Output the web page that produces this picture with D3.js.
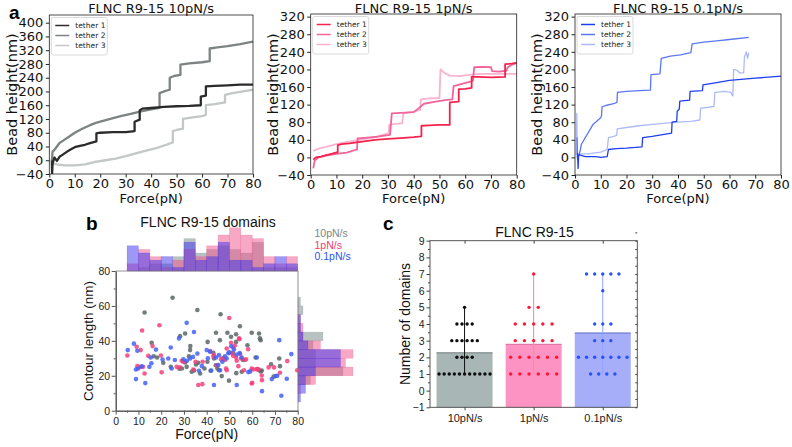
<!DOCTYPE html>
<html>
<head>
<meta charset="utf-8">
<script src="https://cdn.jsdelivr.net/npm/d3@7"></script>
<style>
body { margin: 0; background: #fff; }
svg { display: block; }
</style>
</head>
<body>
<svg id="fig" width="792" height="447"></svg>
<script>
// ---- panel a: bead height traces, [force pN, height nm]
var r10Tether1 = [[1,0],[1.1,-38],[1.3,-10],[2,8],[3,-2],[4,10],[5,15],[6,20],[7,25],[8,30],[10,38],[12,42],[14,45],[16,50],[18.5,55],[18.5,78],[20,80],[25,82],[30,82],[33.5,85],[33.5,112],[35.5,118],[35.5,145],[36.5,150],[40,152],[45,155],[50,157],[55,158],[59.5,160],[59.5,185],[61.5,188],[61.5,215],[65,216],[70,218],[75,220],[80,220]];
var r10Tether2 = [[1,0],[1.3,25],[2,30],[3,40],[4,50],[5,55],[6,60],[8,70],[10,80],[12,88],[14,95],[16,102],[18,108],[20,112],[24,120],[28,128],[32,135],[36,142],[40,148],[43.3,152],[43.3,195],[45,200],[47.3,205],[47.3,240],[49,245],[51.5,248],[51.5,278],[55,282],[60,285],[63,288],[63,325],[66,328],[70,332],[75,338],[80,345]];
var r10Tether3 = [[1,-5],[1.5,-10],[3,-12],[6,-15],[10,-15],[14,-12],[18,-5],[22,0],[26,5],[30,12],[34,20],[38,28],[42,35],[46,45],[48.5,52],[48.5,85],[50,88],[52.5,92],[52.5,120],[55,123],[60,128],[61.5,132],[61.5,160],[65,163],[69,168],[69,190],[72,195],[76,200],[80,205]];

var r1Tether1 = [[1,-5],[2,0],[4,2],[6,5],[8,8],[10.5,12],[10.5,28],[12,30],[15,32],[20,36],[25,40],[30,42],[35,44],[40,46],[43,48],[43,72],[46,73],[50,74],[54,74],[54,125],[57.5,127],[57.5,155],[60,156],[62.5,158],[62.5,183],[65,183],[70,182],[75.5,183],[75.5,212],[78,213],[80,215]];
var r1Tether2 = [[1,-25],[1.5,-8],[3,0],[6,4],[10,8],[14,11],[18,18],[18.2,43],[22,45],[26,47],[30.8,51],[31.5,100],[35,101],[40,103],[42,112],[44,122],[48,126],[52,130],[55,132],[55.5,162],[58,166],[62,172],[63,174],[63.5,205],[67,206],[70,205],[70.5,196],[73,195],[76,197],[76.5,205],[78,210],[80,215]];
var r1Tether3 = [[1,15],[3,20],[6,24],[11,32],[19,40],[25,46],[30.3,55],[30.5,74],[33,76],[35.5,78],[36,100],[40,104],[42.5,108],[42.8,132],[46,134],[50,135],[50.4,200],[52,192],[54,186],[58,185],[62,188],[66,190],[70,190],[75,190],[80,190]];

var r01Tether1 = [[1,10],[1.2,-25],[1.4,5],[2,5],[4,2],[8,2],[10,0],[12.5,2],[13,18],[16,20],[20,21],[26,24],[26.3,45],[30,48],[34,52],[37.5,55],[37.7,80],[39.5,82],[39.7,105],[40.5,110],[40.7,128],[44.5,130],[44.7,150],[49.5,152],[49.7,165],[55,170],[60,175],[70,180],[80,185]];
var r01Tether2 = [[0.8,45],[1,-5],[1.5,5],[2,15],[2.5,30],[3,35],[4,45],[5,55],[6,65],[7,75],[8,80],[9,85],[10,90],[10.3,95],[10.5,115],[12,118],[15,122],[16.3,125],[16.5,148],[20,150],[25,152],[29.3,153],[29.5,188],[33,190],[33.5,225],[37,230],[41,233],[45,238],[45.5,258],[50,262],[55,265],[60,268],[67.5,273]];
var r01Tether3 = [[0.5,5],[0.7,100],[0.9,0],[2,8],[5,8],[10,12],[12.5,18],[13,45],[15,48],[16.2,50],[16.4,65],[20,68],[25,72],[30,75],[35,78],[40,80],[45,82],[48.5,85],[48.8,112],[52,114],[54,116],[54.3,148],[58,150],[60.5,148],[61,142],[61.3,140],[61.6,200],[63,198],[64,192],[65.5,192],[65.8,228],[66.5,240],[67,225],[67.5,238]];

var tetherNames = ['tether 1', 'tether 2', 'tether 3'];
var rateLabels = ['10pN/s', '1pN/s', '0.1pN/s'];

// ---- panel b: unfolding events, [force pN, contour length nm]
var events10 = [[25,64.7],[12.7,56.2],[35.9,57.7],[46.1,55.2],[54.6,48.4],[28.3,42.7],[30.5,44.2],[44.1,44.6],[49.1,44.6],[50.7,42.3],[45.8,40.4],[52.9,43.8],[52.9,39.4],[59.8,44.6],[63,44.2],[63.4,41.4],[63.7,40.4],[40.4,39.4],[57.9,37.5],[15.8,38.9],[18.2,30.5],[20.9,27.4],[24.2,25.1],[29.1,24.2],[31.2,25.1],[30.5,27.6],[32.7,34.7],[32.8,37],[32.2,31.2],[33.4,22.3],[35.3,26.5],[36.3,27.5],[37.1,21.3],[39,24.2],[40.3,28],[41.7,22.9],[42.9,33.2],[43.2,29.9],[44.7,24.2],[45.4,23.2],[46.6,19.8],[47,29.9],[49.8,17.2],[51.5,33],[55.4,22.3],[56,29],[61.5,30.5],[63,23.2],[64.2,23],[63.8,22.5],[68.3,26.5],[71.9,29.9],[72.2,25.5],[16.7,31.2],[34.5,23],[28,24],[44,26],[53,21.5],[69.4,19.5]];
var events1 = [[49.9,53.1],[19.2,48.9],[11.6,45.9],[54.2,41.4],[54.4,41],[50.7,38.9],[51.7,36.2],[52.4,37.3],[58.2,35.2],[5.1,31.6],[9.2,36.6],[11,34.7],[14.3,31.4],[16.2,37],[19.9,31.6],[20.2,22],[26.8,25.1],[29,28.6],[29.7,28],[28.2,24.8],[34.1,23.6],[35.1,28],[36.3,14.7],[38.1,15.2],[38.2,28],[41.5,34.1],[43.2,31.8],[43,31],[44.4,26],[46.3,29.5],[47.3,30],[48,29],[48.8,35.6],[48.5,24.2],[48.8,23.2],[51.1,33.1],[51.6,31.5],[52.9,30.5],[53.2,28.6],[53.9,25.5],[54.7,32.5],[55.1,29.9],[56.8,29],[56.4,23.2],[57.3,29.5],[59.8,15.6],[60,16],[59.8,24.2],[60.5,23.6],[62,23.8],[62.7,23.6],[62.4,23.8],[64.2,20.2],[64.3,17.5],[67.2,24.8],[69.6,24.8],[72.2,21.7],[75.4,28.4],[79.8,23.2],[9.5,25.5],[10.5,25],[12.7,21.3],[12,25.1]];
var events01 = [[31.2,50.3],[27.8,41.4],[34.4,45.1],[71.9,40.4],[5.3,34.7],[8,38.4],[9.5,34.3],[15.4,30.5],[17.7,35],[20.6,29.3],[23.1,29.9],[24.2,36.2],[24.6,24.2],[31.3,28.6],[32.7,29.9],[35.9,32.7],[36.6,22.9],[40,34.7],[41.5,33.8],[43.2,14.7],[44.1,30.5],[45.1,26.1],[45.9,23.2],[45.4,31.8],[48,31.2],[48.8,29.9],[49.5,32.9],[49.9,33.5],[50.8,36.9],[52,35],[54.5,33],[53.2,32.2],[53.2,14.7],[55.4,30.5],[58.3,22.1],[59.1,22.5],[62,30.5],[64.3,11.2],[70.3,19.8],[68.6,18.1],[71,20],[72.8,8.6],[75.2,18.3],[77.2,32.4],[8.9,23.6],[8.9,18.1],[9.9,24.2],[11.4,25.4],[13,15.8],[14.8,25.1],[15.7,27.2],[26,29],[29.8,29.5],[34,30.8],[37.9,25.5],[42,23],[46.9,28],[40.5,30]];

// marginal histograms: counts per 5 pN force bin and per 5 nm length bin
var forceBins = [5,10,15,20,25,30,35,40,45,50,55,60,65,70,75];
var forceHist10 = [0,1,2,2,4,9,5,6,7,6,5,8,1,1,1];
var forceHist1  = [2,6,4,1,3,6,4,7,10,12,10,9,4,2,4];
var forceHist01 = [7,5,3,4,1,8,3,4,8,3,3,1,2,4,2];
var lengthBins = [5,10,15,20,25,30,35,40,45,50,55,60];
var lengthHist10 = [0,0,5,18,7,7,6,10,1,0,2,1];
var lengthHist1  = [0,1,7,22,19,22,9,2,2,1,0,0];
var lengthHist01 = [1,3,3,7,17,17,4,2,1,1,0,0];

// ---- panel c: number of domains per tether
var domains10 = [1,1,1,1,1,1,1,1,1,1,1,2,2,2,2,3,3,3,3,3,3,4,4,4,4,5];
var domains1  = [1,1,1,1,1,1,2,2,2,2,2,2,3,3,3,3,3,4,4,4,4,4,5,5,7];
var domains01 = [1,1,1,1,2,2,2,2,2,2,2,3,3,3,4,4,4,6,7,7,7,7,7];
var domainMeans = [2.27, 2.78, 3.46];

var svg = d3.select('#fig');
svg.append('rect').attr('width', 792).attr('height', 447).attr('fill', '#fff');

var fontA = 'DejaVu Sans, sans-serif';
var fontB = 'Liberation Sans, Arial, sans-serif';

// ================= panel a =================
var panelsA = [
  {x0: 49.3, x1: 253, yTop: 15, yBot: 174, yMax: 422.4, yTicks: d3.range(-40, 401, 40), ylab: 17,
   title: 'FLNC R9-15 10pN/s', data: [r10Tether1, r10Tether2, r10Tether3],
   colors: ['#2b2b2b', '#7d8383', '#c3c7c7'], width: 2.3},
  {x0: 310.7, x1: 516.7, yTop: 14, yBot: 175, yMax: 326, yTicks: d3.range(-40, 321, 40), ylab: 277.5,
   title: 'FLNC R9-15 1pN/s', data: [r1Tether1, r1Tether2, r1Tether3],
   colors: ['#f4234e', '#f2649a', '#f9b2d0'], width: 1.8},
  {x0: 575, x1: 781, yTop: 14, yBot: 175, yMax: 326, yTicks: d3.range(-40, 321, 40), ylab: 542,
   title: 'FLNC R9-15 0.1pN/s', data: [r01Tether1, r01Tether2, r01Tether3],
   colors: ['#1f3ff2', '#5b78f2', '#aebbf8'], width: 1.3}
];

panelsA.forEach(function (p, pi) {
  var x = d3.scaleLinear().domain([0, 80]).range([p.x0, p.x1]);
  var y = d3.scaleLinear().domain([-40, p.yMax]).range([p.yBot, p.yTop]);
  var g = svg.append('g');

  g.append('clipPath').attr('id', 'clipA' + pi)
    .append('rect').attr('x', p.x0).attr('y', p.yTop)
    .attr('width', p.x1 - p.x0).attr('height', p.yBot - p.yTop);

  var line = d3.line().x(function (d) { return x(d[0]); }).y(function (d) { return y(d[1]); });

  // draw tether 3 first so darker traces sit on top
  [2, 1, 0].forEach(function (i) {
    g.append('path').datum(p.data[i])
      .attr('d', line)
      .attr('fill', 'none')
      .attr('stroke', p.colors[i])
      .attr('stroke-width', p.width)
      .attr('stroke-linejoin', 'round')
      .attr('clip-path', 'url(#clipA' + pi + ')');
  });

  g.append('rect').attr('x', p.x0).attr('y', p.yTop)
    .attr('width', p.x1 - p.x0).attr('height', p.yBot - p.yTop)
    .attr('fill', 'none').attr('stroke', '#222').attr('stroke-width', 0.8);

  var ax = g.append('g').attr('transform', 'translate(0,' + p.yBot + ')')
    .call(d3.axisBottom(x).tickValues(d3.range(0, 81, 10)).tickSize(3.5).tickSizeOuter(0).tickPadding(1));
  var ay = g.append('g').attr('transform', 'translate(' + p.x0 + ',0)')
    .call(d3.axisLeft(y).tickValues(p.yTicks).tickSize(3.5).tickSizeOuter(0).tickPadding(2.5));
  [ax, ay].forEach(function (a) {
    a.select('.domain').remove();
    a.attr('font-family', fontA).attr('font-size', 13);
    a.selectAll('line').attr('stroke', '#222');
    a.selectAll('text').attr('fill', '#111');
  });

  g.append('text').attr('x', (p.x0 + p.x1) / 2).attr('y', 13)
    .attr('text-anchor', 'middle').attr('font-family', fontA).attr('font-size', 13)
    .attr('fill', '#111').text(p.title);
  g.append('text').attr('x', (p.x0 + p.x1) / 2).attr('y', 203)
    .attr('text-anchor', 'middle').attr('font-family', fontA).attr('font-size', 13)
    .attr('fill', '#111').text('Force(pN)');
  g.append('text').attr('transform', 'translate(' + p.ylab + ',' + ((p.yTop + p.yBot) / 2) + ') rotate(-90)')
    .attr('text-anchor', 'middle').attr('font-family', fontA).attr('font-size', 14.5)
    .attr('fill', '#111').text('Bead height(nm)');

  // legend
  var lg = g.append('g').attr('transform', 'translate(' + (p.x0 + 2) + ',' + (p.yTop + 2.5) + ')');
  lg.append('rect').attr('width', 56).attr('height', 37.5).attr('rx', 2)
    .attr('fill', '#fff').attr('stroke', '#d0d0d0').attr('stroke-width', 0.8);
  tetherNames.forEach(function (name, i) {
    var yy = 8 + i * 10;
    lg.append('line').attr('x1', 4).attr('x2', 18).attr('y1', yy).attr('y2', yy)
      .attr('stroke', p.colors[i]).attr('stroke-width', 1.5);
    lg.append('text').attr('x', 24).attr('y', yy + 2.7)
      .attr('font-family', fontA).attr('font-size', 7.5).attr('fill', '#222').text(name);
  });
});

svg.append('text').attr('x', 9).attr('y', 18.5).attr('font-family', fontB)
  .attr('font-size', 19).attr('font-weight', 'bold').text('a');

// ================= panel b =================
var bx = d3.scaleLinear().domain([0, 80]).range([115.7, 297.7]);
var by = d3.scaleLinear().domain([0, 80]).range([410.7, 271]);
var topH = d3.scaleLinear().domain([0, 1]).range([0, 3.6]);
var sideW = d3.scaleLinear().domain([0, 1]).range([0, 2.5]);

var histColors = ['#8b9999', '#f0528c', '#3b32ee'];
var histOpacity = [0.6, 0.5, 0.5];
var forceHists = [forceHist10, forceHist1, forceHist01];
var lengthHists = [lengthHist10, lengthHist1, lengthHist01];

var gb = svg.append('g');

forceHists.forEach(function (counts, si) {
  gb.append('g').selectAll('rect').data(forceBins).enter().append('rect')
    .attr('x', function (d) { return bx(d); })
    .attr('width', function (d) { return bx(d + 5) - bx(d); })
    .attr('y', function (d, i) { return 271 - topH(counts[i]); })
    .attr('height', function (d, i) { return topH(counts[i]); })
    .attr('fill', histColors[si]).attr('fill-opacity', histOpacity[si])
    .attr('stroke', histColors[si]).attr('stroke-opacity', 0.35).attr('stroke-width', 0.5);
});

lengthHists.forEach(function (counts, si) {
  gb.append('g').selectAll('rect').data(lengthBins).enter().append('rect')
    .attr('x', 298)
    .attr('y', function (d) { return by(d + 5); })
    .attr('height', function (d) { return by(d) - by(d + 5); })
    .attr('width', function (d, i) { return sideW(counts[i]); })
    .attr('fill', histColors[si]).attr('fill-opacity', histOpacity[si])
    .attr('stroke', histColors[si]).attr('stroke-opacity', 0.35).attr('stroke-width', 0.5);
});

// scatter
var eventSets = [events10, events1, events01];
var dotColors = ['#5b6666', '#f4407a', '#4462f2'];
eventSets.forEach(function (pts, si) {
  gb.append('g').selectAll('circle').data(pts).enter().append('circle')
    .attr('cx', function (d) { return bx(d[0]); })
    .attr('cy', function (d) { return by(d[1]); })
    .attr('r', 2.3)
    .attr('fill', dotColors[si]).attr('fill-opacity', 0.85);
});

// histogram baselines
gb.append('line').attr('x1', 115.7).attr('x2', 298).attr('y1', 271).attr('y2', 271)
  .attr('stroke', '#777').attr('stroke-width', 0.8);
gb.append('line').attr('x1', 298).attr('x2', 298).attr('y1', 271).attr('y2', 410.7)
  .attr('stroke', '#777').attr('stroke-width', 0.8);

var bxAxis = gb.append('g').attr('transform', 'translate(0,410.7)')
  .call(d3.axisBottom(bx).tickValues(d3.range(0, 81, 10)).tickSize(4).tickSizeOuter(0).tickPadding(2.5));
var bxMinor = gb.append('g').attr('transform', 'translate(0,410.7)')
  .call(d3.axisBottom(bx).tickValues(d3.range(5, 80, 10)).tickSize(2).tickSizeOuter(0).tickFormat(''));
var byAxis = gb.append('g').attr('transform', 'translate(115.7,0)')
  .call(d3.axisLeft(by).tickValues(d3.range(0, 81, 20)).tickSize(4).tickSizeOuter(0).tickPadding(1.5));
var byMinor = gb.append('g').attr('transform', 'translate(115.7,0)')
  .call(d3.axisLeft(by).tickValues(d3.range(10, 80, 20)).tickSize(2).tickSizeOuter(0).tickFormat(''));
[bxAxis, bxMinor, byAxis, byMinor].forEach(function (a) {
  a.attr('font-family', fontB).attr('font-size', 10.5);
  a.selectAll('line, .domain').attr('stroke', '#555');
  a.selectAll('text').attr('fill', '#222');
});

gb.append('text').attr('x', 208).attr('y', 227).attr('text-anchor', 'middle')
  .attr('font-family', fontB).attr('font-size', 14).attr('fill', '#111').text('FLNC R9-15 domains');
gb.append('text').attr('x', 206.7).attr('y', 438.5).attr('text-anchor', 'middle')
  .attr('font-family', fontB).attr('font-size', 14).attr('fill', '#111').text('Force(pN)');
gb.append('text').attr('transform', 'translate(93,341) rotate(-90)').attr('text-anchor', 'middle')
  .attr('font-family', fontB).attr('font-size', 13.5).attr('fill', '#111').text('Contour length (nm)');

var legendColors = ['#7b8686', '#f23c6e', '#2f52f2'];
rateLabels.forEach(function (lab, i) {
  gb.append('text').attr('x', 314.5).attr('y', 237 + i * 11.5)
    .attr('font-family', fontB).attr('font-size', 10.5).attr('fill', legendColors[i]).text(lab);
});

svg.append('text').attr('x', 86).attr('y', 230).attr('font-family', fontB)
  .attr('font-size', 19).attr('font-weight', 'bold').text('b');

// ================= panel c =================
var cx = d3.scalePoint().domain(rateLabels).range([430, 637.3]).padding(0.5);
var cy = d3.scaleLinear().domain([-1, 9]).range([407.3, 240.7]);
var barW = 56;
var barFill = ['#a9b6b6', '#fd93c3', '#a6aefa'];
var barEdge = ['#6f7c7c', '#d96a98', '#5f6cc6'];
var rangeColors = ['#111', '#f48a94', '#8fa2ff'];
var dotFill = ['#0d0d0d', '#ff1535', '#2452ff'];
var dotGap = [5.1, 9.2, 8.1];
var domainSets = [domains10, domains1, domains01];

var gc = svg.append('g');

gc.selectAll('rect.bar').data(rateLabels).enter().append('rect')
  .attr('class', 'bar')
  .attr('x', function (d) { return cx(d) - barW / 2; })
  .attr('width', barW)
  .attr('y', function (d, i) { return cy(domainMeans[i]); })
  .attr('height', function (d, i) { return cy(-1) - cy(domainMeans[i]); })
  .attr('fill', function (d, i) { return barFill[i]; });
gc.selectAll('line.bartop').data(rateLabels).enter().append('line')
  .attr('x1', function (d) { return cx(d) - barW / 2; })
  .attr('x2', function (d) { return cx(d) + barW / 2; })
  .attr('y1', function (d, i) { return cy(domainMeans[i]); })
  .attr('y2', function (d, i) { return cy(domainMeans[i]); })
  .attr('stroke', function (d, i) { return barEdge[i]; }).attr('stroke-width', 1);

domainSets.forEach(function (vals, gi) {
  var cat = rateLabels[gi];
  var ext = d3.extent(vals);
  gc.append('line').attr('x1', cx(cat)).attr('x2', cx(cat))
    .attr('y1', cy(ext[0])).attr('y2', cy(ext[1]))
    .attr('stroke', rangeColors[gi]).attr('stroke-width', 1);

  var counts = d3.rollup(vals, function (v) { return v.length; }, function (d) { return d; });
  var pts = [];
  counts.forEach(function (n, v) {
    for (var k = 0; k < n; k++) pts.push({v: v, off: (k - (n - 1) / 2) * dotGap[gi]});
  });
  gc.append('g').selectAll('circle').data(pts).enter().append('circle')
    .attr('cx', function (d) { return cx(cat) + d.off; })
    .attr('cy', function (d) { return cy(d.v); })
    .attr('r', 1.7)
    .attr('fill', dotFill[gi]);
});

// frame and axes
gc.append('rect').attr('x', 430).attr('y', 240.7).attr('width', 207.3).attr('height', 166.6)
  .attr('fill', 'none').attr('stroke', '#444').attr('stroke-width', 0.9);

var cyAxis = gc.append('g').attr('transform', 'translate(430,0)')
  .call(d3.axisLeft(cy).tickValues(d3.range(-1, 10, 1)).tickSize(3.5).tickSizeOuter(0).tickPadding(2));
var cyMinor = gc.append('g').attr('transform', 'translate(430,0)')
  .call(d3.axisLeft(cy).tickValues(d3.range(-0.5, 9, 1)).tickSize(2).tickSizeOuter(0).tickFormat(''));
var cyRight = gc.append('g').attr('transform', 'translate(637.3,0)')
  .call(d3.axisRight(cy).tickValues(d3.range(-1, 10, 0.5)).tickSize(-2).tickSizeOuter(0).tickFormat(''));
var cxAxis = gc.append('g').attr('transform', 'translate(0,407.3)')
  .call(d3.axisBottom(cx).tickSize(3).tickSizeOuter(0).tickPadding(4));
var cxTop = gc.append('g').attr('transform', 'translate(0,240.7)')
  .call(d3.axisTop(cx).tickSize(-3).tickSizeOuter(0).tickFormat(''));
[cyAxis, cyMinor, cyRight, cxAxis, cxTop].forEach(function (a) {
  a.select('.domain').remove();
  a.attr('font-family', fontB).attr('font-size', 11);
  a.selectAll('line').attr('stroke', '#444');
  a.selectAll('text').attr('fill', '#222');
});
cyAxis.selectAll('text').attr('font-size', 10.5);

gc.append('text').attr('x', 534.5).attr('y', 236.5).attr('text-anchor', 'middle')
  .attr('font-family', fontB).attr('font-size', 14).attr('fill', '#111').text('FLNC R9-15');
gc.append('text').attr('transform', 'translate(410,324) rotate(-90)').attr('text-anchor', 'middle')
  .attr('font-family', fontB).attr('font-size', 14).attr('fill', '#111').text('Number of domains');

svg.append('text').attr('x', 383).attr('y', 230).attr('font-family', fontB)
  .attr('font-size', 19).attr('font-weight', 'bold').text('c');
</script>
</body>
</html>
